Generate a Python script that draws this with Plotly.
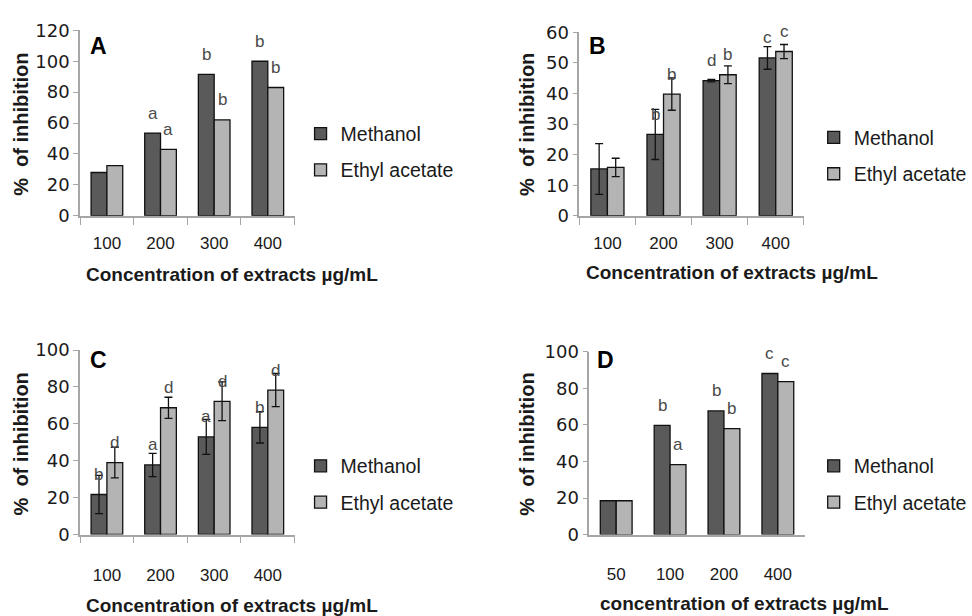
import plotly.graph_objects as go

# ---------------- data ----------------
series_names = ["Methanol", "Ethyl acetate"]

cats_A = ["100", "200", "300", "400"]
meth_A = [28, 53.5, 91.5, 100]
eth_A = [32.5, 43, 62, 83]
let_meth_A = ["", "a", "b", "b"]
let_eth_A = ["", "a", "b", "b"]

cats_B = ["100", "200", "300", "400"]
meth_B = [15.3, 26.6, 44.2, 51.6]
meth_B_err = [8.3, 8.2, 0.4, 3.7]
eth_B = [15.8, 39.8, 46.1, 53.7]
eth_B_err = [3.0, 5.3, 2.9, 2.3]
let_meth_B = ["", "b", "d", "c"]
let_eth_B = ["", "b", "b", "c"]

cats_C = ["100", "200", "300", "400"]
meth_C = [21.7, 37.7, 52.9, 58.1]
meth_C_err = [10.4, 6.3, 9.5, 8.5]
eth_C = [39.0, 68.7, 72.2, 78.3]
eth_C_err = [8.3, 5.7, 10.5, 9.0]
let_meth_C = ["b", "a", "a", "b"]
let_eth_C = ["d", "d", "d", "d"]

cats_D = ["50", "100", "200", "400"]
meth_D = [18.5, 59.8, 67.7, 88.2]
eth_D = [18.5, 38.3, 58.0, 83.8]
let_meth_D = ["", "b", "b", "c"]
let_eth_D = ["", "a", "b", "c"]

xtitle_ABC = "Concentration of extracts µg/mL"
xtitle_D = "concentration of extracts µg/mL"
ytitle = "%\u00a0 of inhibition"

# ---------------- styling ----------------
W, H = 972, 616
C_METH = "#5a5a5a"
C_ETH = "#b4b4b4"
AXIS_C = "#a6a6a6"
TXT = "#1a1a1a"
LET_C = "#4a4a4a"
SANS = "Liberation Sans, Arial, sans-serif"


def px_x(p):
    return p / W


def px_y(p):
    return 1 - p / H


panels = [
    # key, cats, meth, meth_err, eth, eth_err, lm, le, ymax, dtick, xdom(px), ydom(px), ticks, xtitle
    ("A", cats_A, meth_A, None, eth_A, None, let_meth_A, let_eth_A, 120, 20, (81, 298), (212, 20), True, xtitle_ABC),
    ("B", cats_B, meth_B, meth_B_err, eth_B, eth_B_err, let_meth_B, let_eth_B, 60, 10, (586, 813), (212, 22), True, xtitle_ABC),
    ("C", cats_C, meth_C, meth_C_err, eth_C, eth_C_err, let_meth_C, let_eth_C, 100, 20, (81, 298), (542, 351), True, xtitle_ABC),
    ("D", cats_D, meth_D, None, eth_D, None, let_meth_D, let_eth_D, 100, 20, (596, 814), (542, 353), False, xtitle_D),
]

# positions of texts (pixels)
panel_letter_pos = {"A": (100, 36), "B": (604, 36), "C": (100, 361), "D": (612, 361)}
xtitle_pos = {"A": (235, 273), "B": (740, 271), "C": (235, 615), "D": (753, 613)}
ytitle_pos = {"A": (21, 117), "B": (533, 117), "C": (21, 448), "D": (533, 448)}
legend_pos = {"A": (304, 107), "B": (823, 111), "C": (304, 451), "D": (823, 451)}
tick_standoff = {"A": 11, "B": 11, "C": 24, "D": 23}

fig = go.Figure()
annotations = []
layout = {}

HALF = (1 - 0.41) / 4  # centre offset of each bar in category units

for i, (key, cats, meth, meth_err, eth, eth_err, lm, le, ymax, dtick, xd, yd, ticks, xt) in enumerate(panels):
    n = "" if i == 0 else str(i + 1)
    xa, ya = "x" + n, "y" + n
    leg = "legend" + n
    for name, vals, err, col, lets, sign in [
        (series_names[0], meth, meth_err, C_METH, lm, -1),
        (series_names[1], eth, eth_err, C_ETH, le, 1),
    ]:
        tr = dict(
            x=cats, y=vals, name=name, xaxis=xa, yaxis=ya,
            marker=dict(color=col, line=dict(color="#111111", width=1.3)),
            legend=leg, legendgroup=key + name, showlegend=True,
        )
        if err is not None:
            tr["error_y"] = dict(type="data", array=err, visible=True,
                                 color="#111111", thickness=1.3, width=4)
        fig.add_trace(go.Bar(**tr))
        for j, (v, t) in enumerate(zip(vals, lets)):
            if t:
                annotations.append(dict(
                    x=j + sign * HALF, y=v, xref=xa, yref=ya, text=t, showarrow=False,
                    yshift=20, yanchor="middle", xanchor="center",
                    font=dict(family=SANS, size=17, color=LET_C)))

    layout["xaxis" + n] = dict(
        domain=[px_x(xd[0]), px_x(xd[1])], anchor=ya, type="category",
        showline=True, linecolor=AXIS_C, linewidth=1.5,
        ticks="outside" if ticks else "", tickson="boundaries", ticklen=7,
        tickcolor=AXIS_C, tickwidth=1.2, showgrid=False, zeroline=False,
        ticklabelstandoff=tick_standoff[key],
        tickfont=dict(family=SANS, size=17, color=TXT),
        fixedrange=True,
    )
    layout["yaxis" + n] = dict(
        domain=[px_y(yd[0]), px_y(yd[1])], anchor=xa, range=[0, ymax], dtick=dtick,
        showline=True, linecolor=AXIS_C, linewidth=1.5,
        ticks="outside", ticklen=5, tickcolor=AXIS_C, tickwidth=1.2,
        showgrid=False, zeroline=False,
        tickfont=dict(family="DejaVu Sans, sans-serif", size=18, color=TXT),
        fixedrange=True,
    )
    layout[leg] = dict(
        x=px_x(legend_pos[key][0]), y=px_y(legend_pos[key][1]),
        xanchor="left", yanchor="top", bgcolor="rgba(0,0,0,0)",
        font=dict(family=SANS, size=19.5, color=TXT),
        tracegroupgap=8, traceorder="grouped", itemclick=False,
    )
    px, py = panel_letter_pos[key]
    annotations.append(dict(x=px_x(px), y=px_y(py), xref="paper", yref="paper",
                            text="<b>%s</b>" % key, showarrow=False,
                            font=dict(family=SANS, size=23, color="#000"),
                            xanchor="center", yanchor="middle"))
    tx, ty = xtitle_pos[key]
    annotations.append(dict(x=px_x(tx), y=px_y(ty), xref="paper", yref="paper",
                            text="<b>%s</b>" % xt, showarrow=False,
                            font=dict(family=SANS, size=19, color=TXT),
                            xanchor="center", yanchor="middle"))
    yx, yy = ytitle_pos[key]
    annotations.append(dict(x=px_x(yx), y=px_y(yy), xref="paper", yref="paper",
                            text="<b>%s</b>" % ytitle, showarrow=False, textangle=-90,
                            font=dict(family=SANS, size=20, color=TXT),
                            xanchor="center", yanchor="middle"))

fig.update_layout(
    width=W, height=H, margin=dict(l=0, r=0, t=0, b=0),
    paper_bgcolor="white", plot_bgcolor="white",
    barmode="group", bargap=0.41, bargroupgap=0,
    annotations=annotations, **layout,
)

fig.write_html("out.html", config={"displayModeBar": False})
